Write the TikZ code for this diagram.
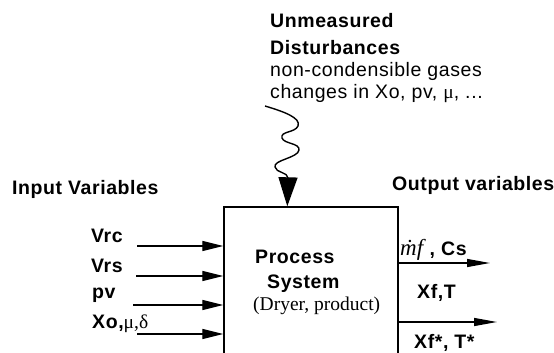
\documentclass[tikz,border=0pt]{standalone}
\usepackage{fontspec}
\setmainfont{Liberation Serif}
\newfontfamily\labfont[LetterSpace=3]{Liberation Sans}
\usepackage{tikz}
\usetikzlibrary{arrows.meta,calc}
\tikzset{
  head/.style={inner sep=0pt,anchor=base west,font=\labfont\bfseries\fontsize{19.5}{22}\selectfont},
  note/.style={inner sep=0pt,anchor=base west,font=\labfont\fontsize{19.5}{22}\selectfont},
  serif/.style={inner sep=0pt,anchor=base west,font=\rmfamily\fontsize{19.5}{22}\selectfont},
  sysbox/.style={rectangle,draw,line width=1.4pt,inner sep=0pt,minimum width=174pt,minimum height=200pt},
  inarr/.style={-{Triangle[length=21pt,width=10pt]},line width=1.3pt},
  outarr/.style={-{Triangle[length=23pt,width=8pt]},line width=1.3pt},
  wave/.style={-{Triangle[length=29pt,width=19pt]},line width=1.4pt},
}

\begin{document}
\begin{tikzpicture}[x=1pt,y=-1pt]
  \useasboundingbox (0,0) rectangle (554,353);
  \clip (0,0) rectangle (554,353);
  % process block (bottom edge is off the page)
  \node[sysbox] (sys) at (311,307) {};
  \node[head] (pr1) at (255,263) {Process};
  \node[head] (pr2) at (267,288) {System};
  \node[serif] (pr3) at (253,310) {(Dryer, product)};
  % disturbances
  \node[head] (dt1) at (270,28) {Unmeasured};
  \node[head] (dt2) at (270,55) {Disturbances};
  \node[note] (dt3) at (270,77) {non-condensible gases};
  \node[note] (dt4) at (270,99) {changes in Xo, pv, {\rmfamily μ}, ...};
  \coordinate (dstart) at (265,106);
  \path (sys.north west) ++(64,0) coordinate (dend);
  \draw[wave] (dstart) .. controls (285,112) and (301,118) .. (298,126)
    .. controls (295,133) and (280,131) .. (282,138)
    .. controls (284,144) and (300,143) .. (299,150)
    .. controls (298,158) and (273,160) .. (275,167)
    .. controls (276,173) and (288,172) .. (288,178) -- (dend);
  % inputs
  \node[head] (inp) at (12,194) {Input Variables};
  \node[head] (in1) at (91,242) {Vrc};
  \node[head] (in2) at (91,272) {Vrs};
  \node[head] (in3) at (92,298) {pv};
  \node[head] (in4) at (92,328) {Xo,{\mdseries\rmfamily μ,δ}};
  \coordinate (i1) at (137,246);
  \coordinate (i2) at (136,276);
  \coordinate (i3) at (133,305);
  \coordinate (i4) at (137,334);
  \foreach \i in {1,...,4}
    \draw[inarr] (i\i) -- (i\i -| sys.west);
  % outputs
  \node[head] (outp) at (392,190) {Output variables};
  \node[serif,font=\rmfamily\fontsize{23}{26}\selectfont] (out1) at (400,255) {\textit{\.{m}f}\,{\labfont\bfseries\fontsize{19.5}{22}\selectfont, Cs}};
  \node[head] (out2) at (417,298) {Xf,T};
  \node[head] (out3) at (414,348) {Xf*, T*};
  \coordinate (o1) at (490,263);
  \coordinate (o2) at (497,322);
  \draw[outarr] (o1 -| sys.east) -- (o1);
  \draw[outarr] (o2 -| sys.east) -- (o2);
\end{tikzpicture}
\end{document}
